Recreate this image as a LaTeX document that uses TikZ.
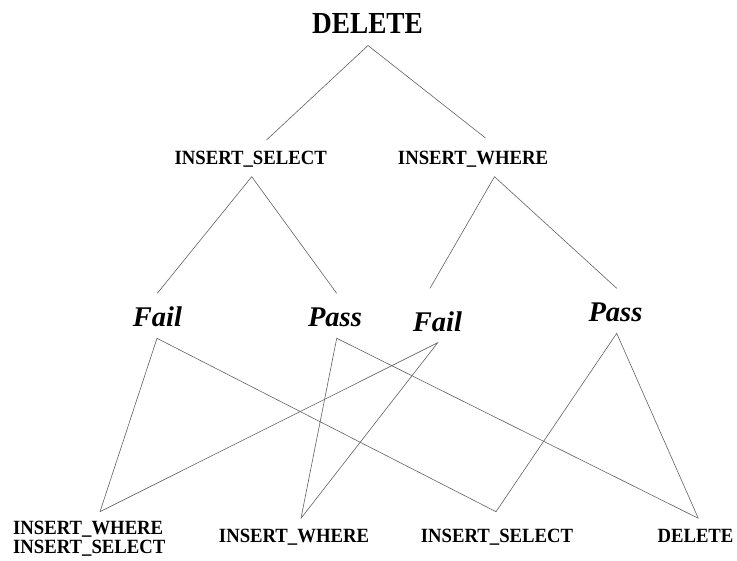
\documentclass[tikz,border=0pt]{standalone}
\usepackage{fontspec}
\setmainfont{Liberation Serif}
\newcommand{\vstretch}[1]{\scalebox{1}[1.08]{#1}}
\tikzset{
  lbl/.style={inner sep=0pt, anchor=base, font=\bfseries\fontsize{18.7}{19}\selectfont},
  toplbl/.style={inner sep=0pt, anchor=base, font=\bfseries\fontsize{27.3}{30}\selectfont},
  res/.style={inner sep=0pt, anchor=base, font=\bfseries\itshape\fontsize{28.5}{30}\selectfont},
  edge/.style={draw=black!62, line width=0.6pt}
}
\begin{document}
\begin{tikzpicture}[x=1pt,y=1pt]
\useasboundingbox (0,0) rectangle (737,-561);
% text nodes
\node[toplbl] (del) at (367.5,-33.3) {\scalebox{1}[1.12]{DELETE}};
\node[lbl] (is) at (250.7,-165) {\vstretch{INSERT\_SELECT}};
\node[lbl] (iw) at (473,-165) {\vstretch{INSERT\_WHERE}};
\node[res] (f1) at (157.5,-327) {Fail};
\node[res] (p1) at (335,-327) {Pass};
\node[res] (f2) at (437.5,-331.5) {Fail};
\node[res] (p2) at (615.5,-321.7) {Pass};
\node[lbl, anchor=south west, align=left, text depth=0pt] (b1) at (13,-554) {\vstretch{INSERT\_WHERE}\\\vstretch{INSERT\_SELECT}};
\node[lbl] (b2) at (294,-542) {\vstretch{INSERT\_WHERE}};
\node[lbl] (b3) at (497,-542.5) {\vstretch{INSERT\_SELECT}};
\node[lbl] (b4) at (695.5,-542) {\vstretch{DELETE}};
% connector end points
\coordinate (d0) at (368,-45.5);
\coordinate (ist) at (266.5,-140);
\coordinate (iwt) at (485.5,-138);
\coordinate (isb) at (251.7,-176.7);
\coordinate (iwb) at (494.5,-176.7);
\coordinate (f1t) at (157.3,-293.3);
\coordinate (f1b) at (157,-338.3);
\coordinate (p1t) at (336.7,-293.3);
\coordinate (p1b) at (336.7,-338.3);
\coordinate (f2t) at (430,-288.3);
\coordinate (f2b) at (437.7,-342.7);
\coordinate (p2t) at (616.7,-288.3);
\coordinate (p2b) at (616.7,-333.3);
\coordinate (b1t) at (100,-511.7);
\coordinate (b2t) at (301,-518.3);
\coordinate (b3t) at (496,-511.7);
\coordinate (b4t) at (698.3,-518.3);
% connectors
\draw[edge] (ist) -- (d0) -- (iwt);
\draw[edge] (f1t) -- (isb) -- (p1t);
\draw[edge] (f2t) -- (iwb) -- (p2t);
\draw[edge] (b1t) -- (f1b) -- (b3t);
\draw[edge] (b2t) -- (p1b) -- (b4t);
\draw[edge] (b1t) -- (f2b) -- (b2t);
\draw[edge] (b3t) -- (p2b) -- (b4t);
\end{tikzpicture}
\end{document}
